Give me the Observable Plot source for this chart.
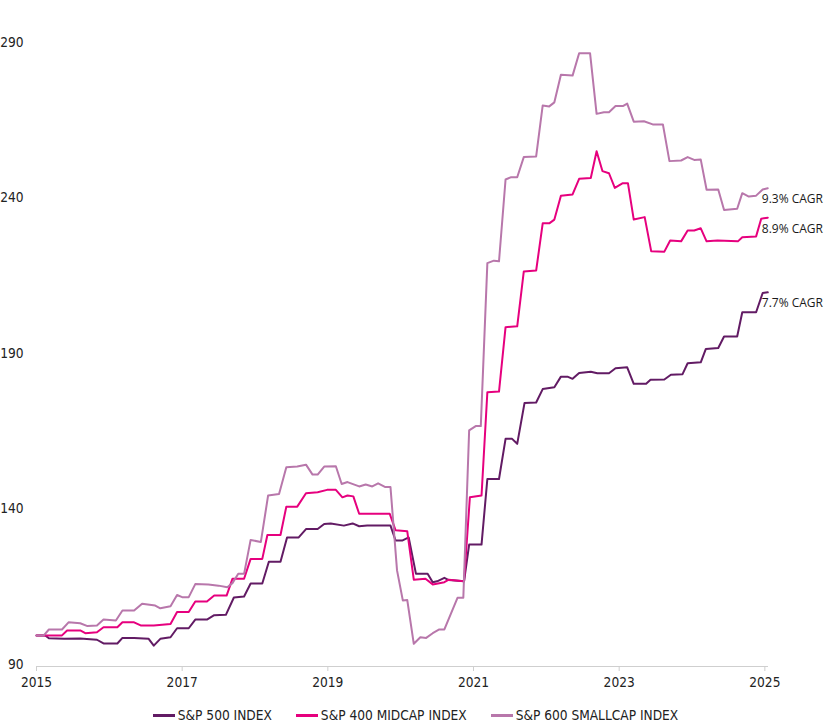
<!DOCTYPE html>
<html><head><meta charset="utf-8">
<script src="https://cdn.jsdelivr.net/npm/d3@7"></script>
<script src="https://cdn.jsdelivr.net/npm/@observablehq/plot@0.6"></script>
<style>
body{margin:0;background:#fff;}
#chart{width:827px;position:relative;}
.legend{display:flex;justify-content:center;align-items:center;gap:24px;width:827px;height:30px;padding-left:4px;box-sizing:border-box;
 font-family:"Liberation Sans Narrow","DejaVu Sans Condensed","Roboto Condensed","Arial Narrow",sans-serif;font-size:13.6px;color:#222;}
.item{display:flex;align-items:center;gap:3px;}
.sw{width:22px;height:3px;display:inline-block;}
</style></head><body><div id="chart"></div>
<script>
const seriesNames = ["S&P 500 INDEX","S&P 400 MIDCAP INDEX","S&P 600 SMALLCAP INDEX"];
const seriesColors = ["#621b64","#e6007e","#b877ab"];
const cagrLabels = ["7.7% CAGR","8.9% CAGR","9.3% CAGR"];
const xTicks = [2015,2017,2019,2021,2023,2025];
const yTicks = [90,140,190,240,290];

const sp500Years = [2015.0,2015.12,2015.17,2015.38,2015.6,2015.83,2015.92,2016.11,2016.18,2016.34,2016.54,2016.61,2016.7,2016.84,2016.93,2017.09,2017.18,2017.34,2017.44,2017.6,2017.71,2017.85,2017.94,2018.1,2018.19,2018.35,2018.44,2018.6,2018.7,2018.86,2018.95,2019.04,2019.22,2019.34,2019.43,2019.54,2019.86,2019.93,2020.02,2020.11,2020.21,2020.37,2020.44,2020.5,2020.6,2020.66,2020.87,2020.94,2021.11,2021.19,2021.35,2021.44,2021.53,2021.6,2021.7,2021.86,2021.95,2022.11,2022.2,2022.29,2022.36,2022.45,2022.61,2022.7,2022.86,2022.95,2023.11,2023.2,2023.37,2023.43,2023.62,2023.71,2023.87,2023.94,2024.12,2024.19,2024.36,2024.44,2024.62,2024.69,2024.88,2024.97,2025.04];
const sp500Values = [100,100,99.1,98.9,99.0,98.6,97.4,97.4,99.2,99.2,98.9,96.7,98.9,99.4,102.3,102.3,105.1,105.1,106.5,106.6,112.2,112.5,116.7,116.7,123.7,123.7,131.5,131.5,134.2,134.2,135.8,136.0,135.3,136.0,135.1,135.3,135.3,130.5,130.5,131.5,119.8,119.8,117.1,117.4,118.5,117.8,117.4,129.2,129.2,150.3,150.3,163.2,163.2,161.6,174.7,174.9,179.2,179.8,183.2,183.2,182.5,184.4,184.8,184.3,184.3,185.9,186.2,180.9,180.9,182.2,182.3,183.8,184.0,187.5,187.8,192.1,192.4,196.1,196.1,203.9,203.9,210.1,210.3];

const sp400Years = [2015.0,2015.35,2015.42,2015.6,2015.67,2015.83,2015.92,2016.11,2016.18,2016.34,2016.43,2016.61,2016.84,2016.93,2017.09,2017.18,2017.34,2017.44,2017.61,2017.69,2017.85,2017.94,2018.1,2018.17,2018.35,2018.43,2018.58,2018.7,2018.86,2018.99,2019.11,2019.2,2019.27,2019.35,2019.43,2019.85,2019.93,2020.09,2020.18,2020.34,2020.44,2020.6,2020.66,2020.87,2020.95,2021.11,2021.19,2021.35,2021.44,2021.6,2021.69,2021.86,2021.95,2022.04,2022.11,2022.2,2022.36,2022.45,2022.61,2022.69,2022.77,2022.86,2022.94,2023.05,2023.12,2023.2,2023.35,2023.44,2023.62,2023.7,2023.85,2023.94,2024.03,2024.12,2024.2,2024.35,2024.63,2024.69,2024.88,2024.95,2025.04];
const sp400Values = [100,100,101.6,101.6,100.7,101.0,102.6,102.6,104.2,104.2,103.2,103.2,103.7,107.5,107.5,110.9,110.9,112.8,112.8,118.2,118.2,124.6,124.6,132.3,132.3,141.4,141.4,145.7,146.0,146.8,146.8,144.4,145.0,144.7,139.1,139.1,133.8,133.5,117.9,118.2,116.4,117.1,117.9,117.4,144.4,145.0,178.2,178.4,199.1,199.4,217.0,217.3,232.5,232.5,233.7,241.4,241.8,246.8,247.1,255.7,249.3,248.6,243.9,245.4,245.4,233.7,234.5,223.5,223.4,227.0,226.7,230.2,230.2,230.9,226.7,227.0,226.7,228.0,228.3,234.0,234.3];

const sp600Years = [2015.0,2015.1,2015.17,2015.35,2015.44,2015.6,2015.7,2015.83,2015.92,2016.09,2016.18,2016.34,2016.45,2016.63,2016.7,2016.84,2016.93,2017.0,2017.09,2017.18,2017.36,2017.5,2017.62,2017.69,2017.77,2017.85,2017.94,2018.08,2018.18,2018.33,2018.43,2018.58,2018.7,2018.79,2018.86,2018.95,2019.11,2019.19,2019.27,2019.43,2019.52,2019.61,2019.69,2019.79,2019.86,2019.95,2020.03,2020.09,2020.18,2020.27,2020.35,2020.44,2020.53,2020.6,2020.78,2020.86,2020.94,2021.03,2021.1,2021.19,2021.28,2021.35,2021.44,2021.51,2021.6,2021.69,2021.86,2021.95,2022.04,2022.11,2022.2,2022.36,2022.45,2022.6,2022.69,2022.79,2022.86,2022.95,2023.05,2023.11,2023.2,2023.34,2023.46,2023.6,2023.69,2023.85,2023.94,2024.03,2024.12,2024.2,2024.36,2024.44,2024.62,2024.69,2024.78,2024.88,2024.97,2025.04];
const sp600Values = [100,100,101.9,101.9,104.2,103.9,103.0,103.2,105.1,104.8,108.0,108.0,110.2,109.6,108.7,109.4,113.0,112.3,112.3,116.5,116.4,116.0,115.5,116.8,119.8,119.8,130.7,130.0,145.0,145.5,154.1,154.3,154.9,151.7,151.7,154.3,154.4,148.7,149.3,147.9,148.5,147.9,148.9,147.7,147.7,120.9,111.2,111.4,97.3,99.4,99.2,100.7,101.9,101.9,112.1,112.1,165.9,167.3,167.3,219.7,220.5,220.3,246.6,247.3,247.3,253.8,254.0,270.4,270.1,271.4,280.3,280.0,287.2,287.2,267.7,268.2,268.2,270.2,270.2,271.0,265.2,265.3,264.3,264.3,252.5,252.7,253.8,252.9,253.0,243.3,243.4,236.8,237.2,242.2,241.1,241.4,243.4,243.8];

const seriesYears = [sp500Years, sp400Years, sp600Years];
const seriesValues = [sp500Values, sp400Values, sp600Values];
const rows = seriesNames.flatMap((name, i) => seriesYears[i].map((yr, j) => ({series: name, year: yr, value: seriesValues[i][j]})));
const lastRows = seriesNames.map((name, i) => ({series: name, year: seriesYears[i].at(-1), value: seriesValues[i].at(-1), label: cagrLabels[i]}));

const axisFont = `"Liberation Sans Narrow","DejaVu Sans Condensed","Roboto Condensed","Arial Narrow",sans-serif`;

const plot = Plot.plot({
  width: 827,
  height: 700,
  marginLeft: 36,
  marginRight: 59,
  marginTop: 44,
  marginBottom: 34,
  style: {fontFamily: axisFont, fontSize: "13.6px", color: "#222", background: "#fff"},
  x: {domain: [2015, 2025.05]},
  y: {domain: [90, 290]},
  color: {domain: seriesNames, range: seriesColors},
  marks: [
    Plot.ruleY([90], {stroke: "#cfcfcf", strokeWidth: 1}),
    Plot.axisX({ticks: xTicks, tickFormat: "d", tickSize: 5, tickPadding: 6, stroke: "#cfcfcf", fill: "#222", label: null, fontSize: 13.6}),
    Plot.axisY({ticks: yTicks, tickSize: 0, tickPadding: 13, label: null, fontSize: 13.6, dy: -2}),
    Plot.line(rows, {x: "year", y: "value", z: "series", stroke: "series", strokeWidth: 2, curve: "linear"}),
    Plot.text(lastRows, {x: "year", y: "value", text: "label", textAnchor: "start", dx: -6, dy: 11, fontSize: 12, fill: "#1a1a1a", fontFamily: "Open Sans"})
  ]
});
document.getElementById("chart").appendChild(plot);

const legend = document.createElement("div");
legend.className = "legend";
seriesNames.forEach((name, i) => {
  const item = document.createElement("span");
  item.className = "item";
  const sw = document.createElement("span");
  sw.className = "sw";
  sw.style.background = seriesColors[i];
  const t = document.createElement("span");
  t.textContent = name;
  item.appendChild(sw); item.appendChild(t);
  legend.appendChild(item);
});
document.getElementById("chart").appendChild(legend);
</script></body></html>
